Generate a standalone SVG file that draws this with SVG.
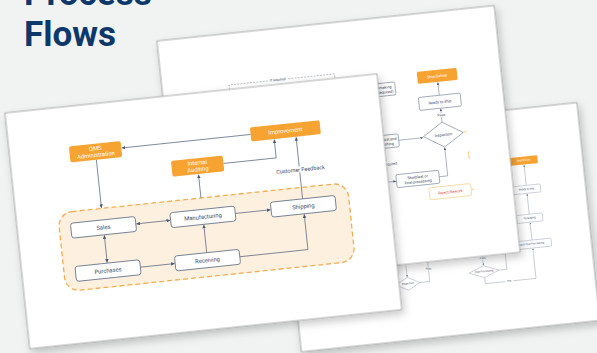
<svg xmlns="http://www.w3.org/2000/svg" width="597" height="353" viewBox="0 0 597 353">
<defs>
<filter id="sh" x="-10%" y="-10%" width="130%" height="135%"><feDropShadow dx="2" dy="4" stdDeviation="4" flood-color="#000" flood-opacity="0.22"/></filter>
<marker id="a1" viewBox="0 0 6 6" refX="6" refY="3" markerWidth="3.6" markerHeight="3.6" markerUnits="userSpaceOnUse" orient="auto-start-reverse"><path d="M0,0 L6,3 L0,6z" fill="#4a5a75"/></marker>
<marker id="a2" viewBox="0 0 6 6" refX="6" refY="3" markerWidth="2.6" markerHeight="2.6" markerUnits="userSpaceOnUse" orient="auto-start-reverse"><path d="M0,0 L6,3 L0,6z" fill="#4a5a75"/></marker>
<marker id="a3" viewBox="0 0 6 6" refX="6" refY="3" markerWidth="1.8" markerHeight="1.8" markerUnits="userSpaceOnUse" orient="auto-start-reverse"><path d="M0,0 L6,3 L0,6z" fill="#5a6a80"/></marker>
</defs>
<style>
.sheet{fill:#fff;stroke:#8c8c8c;stroke-width:0.7}
.t{font-family:Roboto,"Liberation Sans",Arial,sans-serif;text-anchor:middle;dominant-baseline:central;fill:#3b4a66}
.w{fill:#fff}
.box{fill:#fff;stroke:#5b6a82;stroke-width:0.8}
.box2{fill:#fff;stroke:#6a788e;stroke-width:0.6}
.box3{fill:#fff;stroke:#8794a8;stroke-width:0.4}
.org{fill:#f6a332}
.ln{fill:none;stroke:#4e5e78;stroke-width:0.7}
.ln2{fill:none;stroke:#5e6d84;stroke-width:0.5}
.ln3{fill:none;stroke:#7c889b;stroke-width:0.4}
.f1{font-size:5.8px}
.f2{font-size:3.8px}
.f3{font-size:2.6px}
</style>
<rect width="597" height="353" fill="#f1f3f3"/>
<g id="title" font-family="Roboto,'Liberation Sans',Arial,sans-serif" font-weight="700" font-size="35" fill="#0d3869">
<text x="24" y="4.5">Process</text>
<text x="24" y="45.5">Flows</text>
</g>

<!-- Sheet 3 (back right) -->
<g id="sheet3" transform="translate(278.5,134) rotate(-6)">
<rect class="sheet" width="300" height="219" filter="url(#sh)"/>
<g id="s3-connectors">
<path class="ln3" d="M241,132 V114.5" marker-end="url(#a3)"/>
<path class="ln3" d="M241,106 V85.5" marker-end="url(#a3)"/>
<path class="ln3" d="M241,77 V56.5" marker-end="url(#a3)"/>
<path class="ln3" d="M190,120 V152" marker-end="url(#a3)"/>
<path class="ln3" d="M205,158.4 H213 V120"/>
<path class="ln3" d="M190,164.4 V170.5 H241 V140.5" marker-end="url(#a3)"/>
<path class="ln3" d="M113,130 V155.6" marker-end="url(#a3)"/>
<path class="ln3" d="M125,162.5 H135 V130"/>
<rect x="185" y="143.5" width="10" height="3" class="w"/>
<text class="t f3" x="190" y="145">Pass</text>
<rect x="210" y="169" width="8" height="3" class="w"/>
<text class="t f3" x="214" y="170.5">Yes</text>
<rect x="130" y="148.5" width="10" height="3" class="w"/>
<text class="t f3" x="135" y="150">Pass</text>
</g>
<g id="s3-shipdeliver"><rect class="org" x="227" y="48" width="28" height="8" rx="1"/><text class="t f3 w" x="241" y="52">Ship/Deliver</text></g>
<g id="s3-ready"><rect class="box3" x="227" y="77" width="28" height="8" rx="1"/><text class="t f3" x="241" y="81">Ready to ship</text></g>
<g id="s3-packaging"><rect class="box3" x="228" y="106" width="26" height="8" rx="1"/><text class="t f3" x="241" y="110">Packaging</text></g>
<g id="s3-post"><rect class="box3" x="218" y="132" width="42" height="8" rx="1"/><text class="t f3" x="239" y="136">Blast &amp; Post Processing</text></g>
<g id="s3-postdiamond"><polygon class="box3" points="175,158.4 190,152.4 205,158.4 190,164.4"/><text class="t f3" x="190" y="158.4">Post Processing</text></g>
<g id="s3-inspection"><polygon class="box3" points="101,162.5 113,156 125,162.5 113,169"/><text class="t f3" x="113" y="162.5">Inspection</text></g>
</g>

<!-- Sheet 2 (back middle) -->
<g id="sheet2" transform="translate(157,41) rotate(-6)">
<rect class="sheet" width="339" height="248" filter="url(#sh)"/>
<g id="s2-connectors">
<path d="M67,75 V51.3 H173 V75" fill="none" stroke="#7a869a" stroke-width="0.5" stroke-dasharray="2 1.2"/>
<rect x="106" y="49.3" width="20" height="4" class="w"/>
<text class="t" x="116" y="51.3" font-size="3.6px">if required</text>
<path class="ln2" d="M230,124 H254.5" marker-end="url(#a2)"/>
<path class="ln2" d="M200,164.5 H223" marker-end="url(#a2)"/>
<path class="ln2" d="M266.5,164.5 H275 V136" marker-end="url(#a2)"/>
<path class="ln2" d="M275,110.5 V97" marker-end="url(#a2)"/>
<path class="ln2" d="M275,83.5 V70.5" marker-end="url(#a2)"/>
<rect x="269" y="101.5" width="12" height="4" class="w"/>
<text class="t" x="275" y="103.5" font-size="3.6px">Pass</text>
<text class="t" x="226" y="147" font-size="3.6px" style="text-anchor:end">if required</text>
<path d="M295.5,122.6 H298.5 M299.5,143 H298 V149 H299.5 M297.5,180.5 H300" fill="none" stroke="#f5b041" stroke-width="0.6"/>
</g>
<g id="s2-remaking"><rect class="box2" x="208" y="65.5" width="24" height="13" rx="1.5"/><text class="t f2" x="220" y="69.8">Remaking</text><text class="t f2" x="220" y="74.5">(if required)</text></g>
<g id="s2-removal"><rect class="box2" x="204" y="117.5" width="26" height="13" rx="1.5"/><text class="t f2" x="217" y="121.8">Removal and</text><text class="t f2" x="217" y="126.5">Finishing</text></g>
<g id="s2-shipdeliver"><rect class="org" x="255" y="58" width="40" height="12" rx="1.5"/><text class="t f2 w" x="275" y="64">Ship/Deliver</text></g>
<g id="s2-ready"><rect class="box2" x="254" y="83.5" width="42" height="13" rx="1.5"/><text class="t f2" x="275" y="90">Ready to ship</text></g>
<g id="s2-inspection"><polygon class="box2" points="255,123 275,110.5 295,123 275,135.5"/><text class="t f2" x="275" y="123">Inspection</text></g>
<g id="s2-shotblast"><rect class="box2" x="223.5" y="158" width="43" height="13" rx="1.5"/><text class="t f2" x="245" y="162.3">Shotblast or</text><text class="t f2" x="245" y="167">Post-processing</text></g>
<g id="s2-reject"><rect x="255" y="174.5" width="42" height="12" rx="2" fill="#fff" stroke="#f5c56a" stroke-width="0.6"/><text class="t f2" x="276" y="180.5" style="fill:#d9463f">Reject/Rework</text></g>
</g>

<!-- Sheet 1 (front) -->
<g id="sheet1" transform="translate(5,113) rotate(-6)">
<rect class="sheet" width="374" height="237" filter="url(#sh)"/>
<rect id="core-region" x="42" y="105" width="291" height="79" rx="14" fill="#fdf0df" stroke="#f6ad4f" stroke-width="1.3" stroke-dasharray="5 3"/>
<g id="connectors">
<path class="ln" d="M242,47 H112.5" marker-end="url(#a1)"/>
<path class="ln" d="M86,56 V104.5" marker-end="url(#a1)"/>
<path class="ln" d="M186,105 V81.5" marker-end="url(#a1)"/>
<path class="ln" d="M212,73 H265 V54.5" marker-end="url(#a1)"/>
<path class="ln" d="M287,116.5 V54.5" marker-end="url(#a1)"/>
<rect x="263" y="84" width="50" height="6" class="w"/>
<text class="t" x="288" y="87" font-size="5.5px">Customer Feedback</text>
<path class="ln" d="M119,124 H153" marker-start="url(#a1)" marker-end="url(#a1)"/>
<path class="ln" d="M218.5,124 H254" marker-end="url(#a1)"/>
<path class="ln" d="M86,132 V159.5" marker-start="url(#a1)" marker-end="url(#a1)"/>
<path class="ln" d="M118.5,167.5 H153" marker-end="url(#a1)"/>
<path class="ln" d="M186,160 V132" marker-end="url(#a1)"/>
<path class="ln" d="M218.5,167.5 H287 V132" marker-end="url(#a1)"/>
</g>
<g id="qms"><rect class="org" x="60" y="40" width="52" height="16" rx="2"/><text class="t f1 w" x="86" y="44.6">QMS</text><text class="t f1 w" x="86" y="51.2">Administration</text></g>
<g id="improvement"><rect class="org" x="242" y="40" width="70" height="14" rx="2"/><text class="t f1 w" x="277" y="47">Improvement</text></g>
<g id="internal-auditing"><rect class="org" x="160" y="65" width="52" height="16" rx="2"/><text class="t f1 w" x="186" y="69.6">Internal</text><text class="t f1 w" x="186" y="76.2">Auditing</text></g>
<g id="sales"><rect class="box" x="53.5" y="116.5" width="65" height="15" rx="2.5"/><text class="t f1" x="86" y="124">Sales</text></g>
<g id="manufacturing"><rect class="box" x="153.5" y="116.5" width="65" height="15" rx="2.5"/><text class="t f1" x="186" y="124">Manufacturing</text></g>
<g id="shipping"><rect class="box" x="254.5" y="116.5" width="65" height="15" rx="2.5"/><text class="t f1" x="287" y="124">Shipping</text></g>
<g id="purchases"><rect class="box" x="53.5" y="160" width="65" height="15" rx="2.5"/><text class="t f1" x="86" y="167.5">Purchases</text></g>
<g id="receiving"><rect class="box" x="153.5" y="160" width="65" height="15" rx="2.5"/><text class="t f1" x="186" y="167.5">Receiving</text></g>
</g>
</svg>
